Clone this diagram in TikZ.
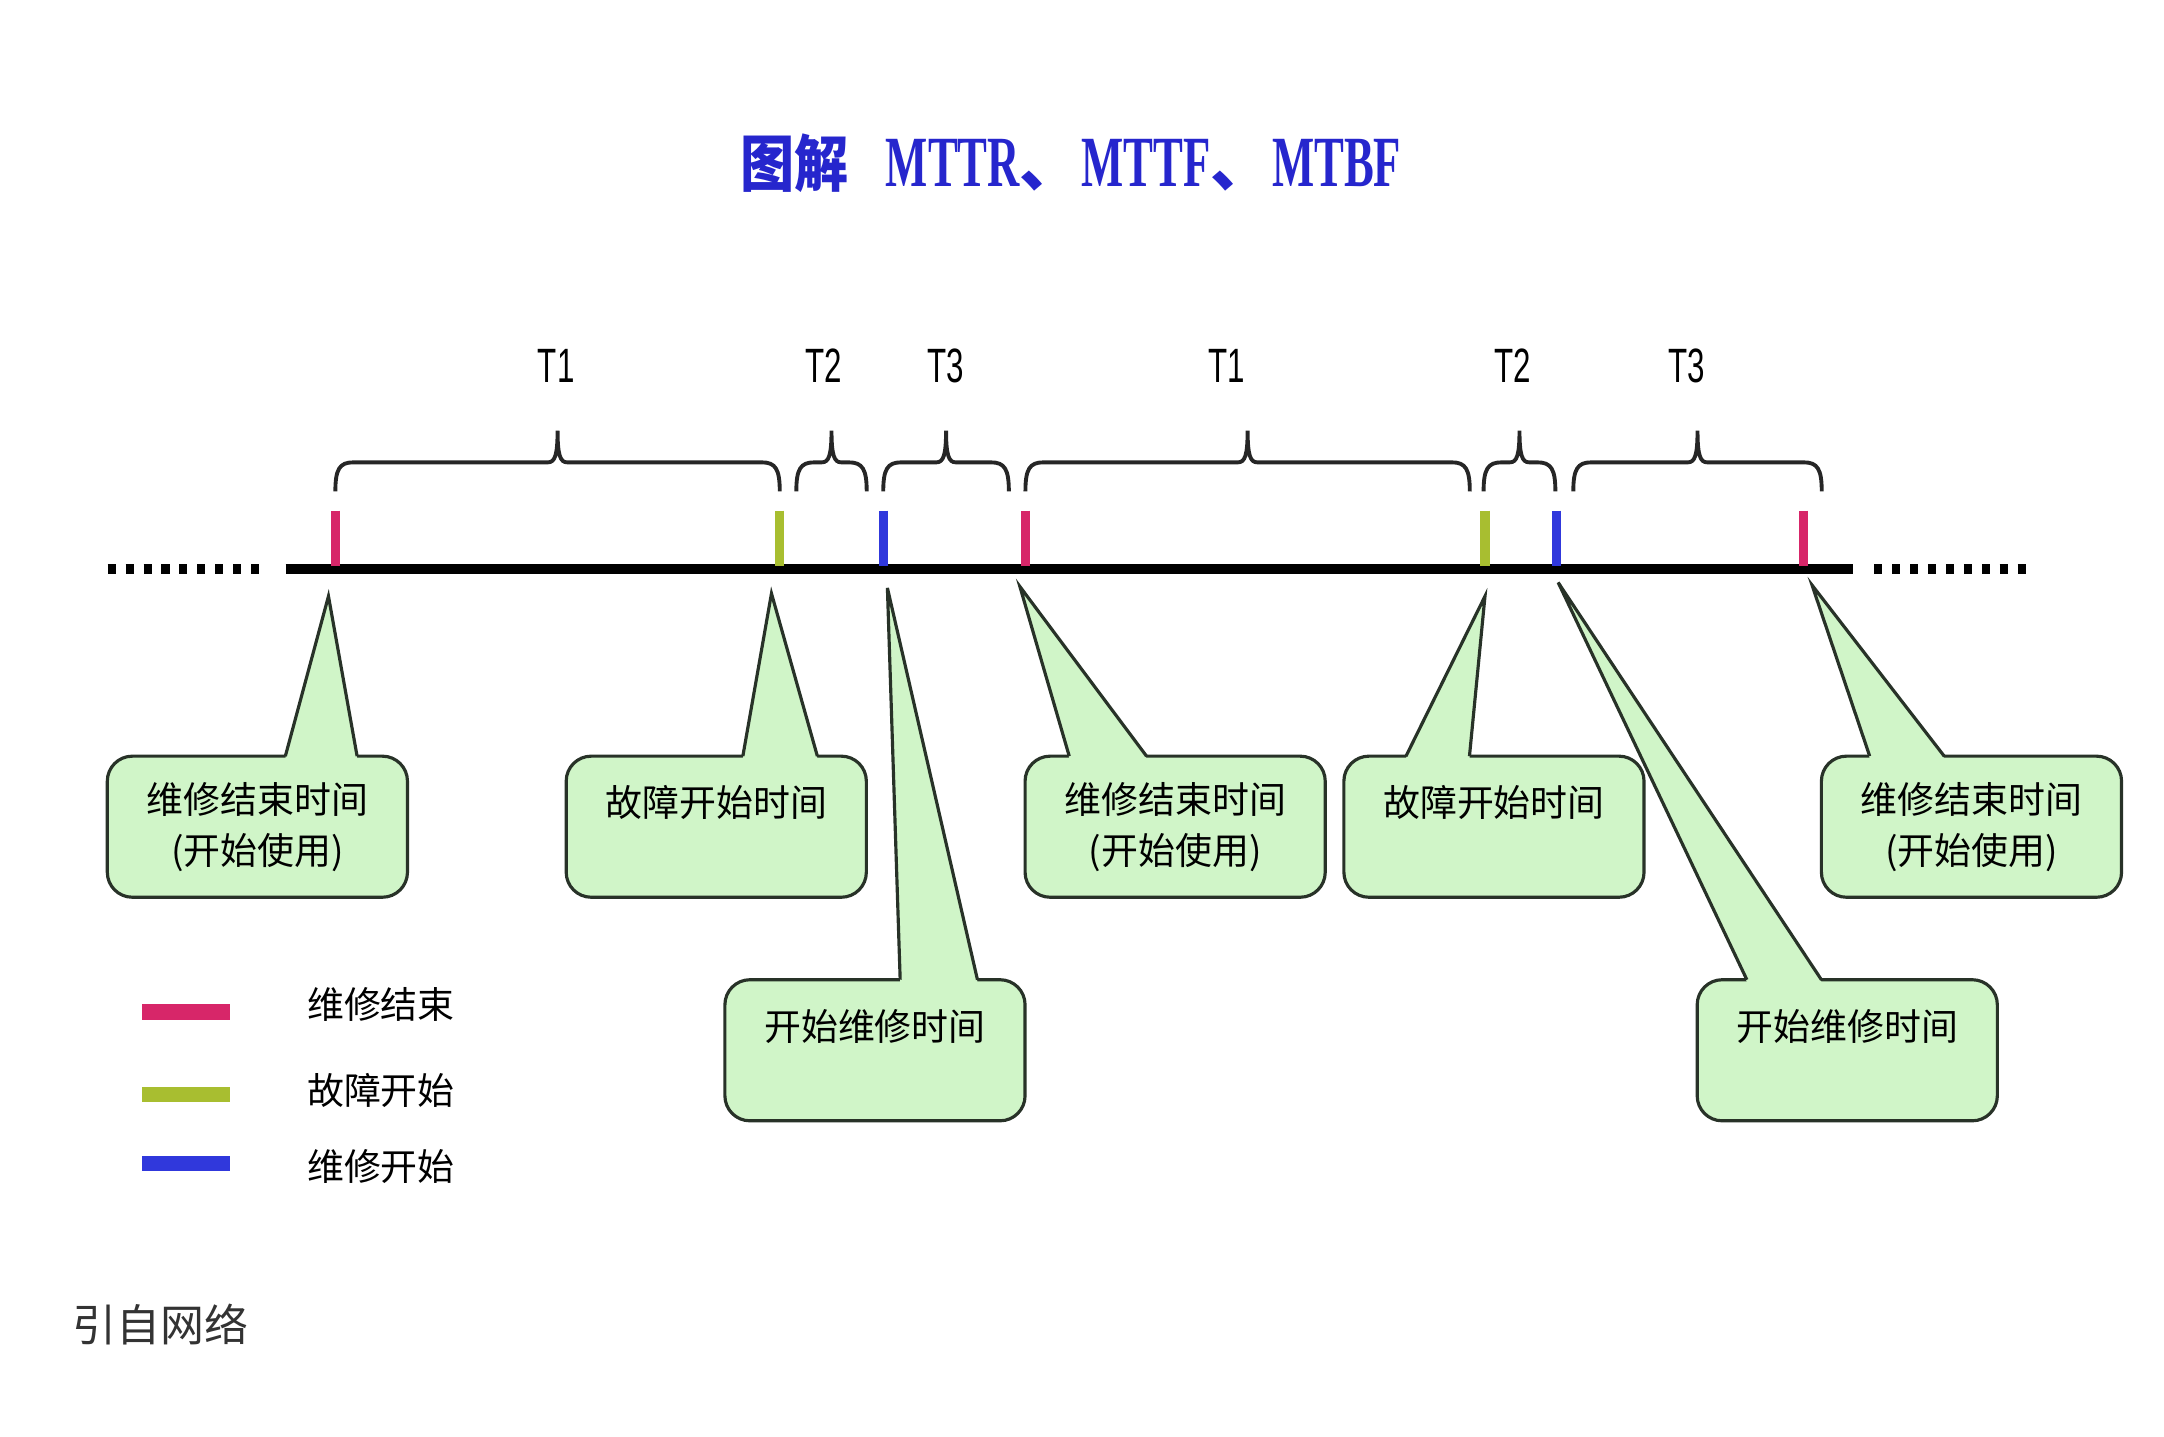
\documentclass[tikz,border=0pt]{standalone}
\usepackage{fontspec}
\setmainfont{Liberation Sans}
\newfontfamily\cjk{Noto Sans CJK SC}
\newfontfamily\titleserif{Liberation Serif}
\usetikzlibrary{calc}
\definecolor{endpink}{RGB}{215, 38, 105}
\definecolor{faultlime}{RGB}{168, 190, 48}
\definecolor{repairblue}{RGB}{48, 56, 220}
\definecolor{titleblue}{RGB}{38, 38, 205}
\definecolor{notefill}{RGB}{208, 245, 200}
\definecolor{noteline}{RGB}{40, 50, 40}
\definecolor{sourcegrey}{RGB}{51, 51, 51}

\tikzset{
  note/.style={draw=noteline, line width=0.9pt, fill=notefill, rounded corners=0.25cm,
    minimum width=3cm, minimum height=1.41cm, inner sep=0pt, outer sep=0pt,
    align=center, font=\cjk\fontsize{10.5}{14.5}\selectfont},
  notetip/.style={draw=noteline, line width=0.9pt, line join=miter},
  ticker/.style={line width=2.6pt},
  spanbrace/.style={line width=1.1pt, black!85},
  period/.style={font=\fontsize{13.7}{16}\selectfont},
  legendbar/.style={line width=4.5pt},
  legendtext/.style={anchor=west, inner sep=0pt, font=\cjk\fontsize{10.5}{13}\selectfont}
}
\newcommand{\narrowcaps}[1]{\scalebox{0.62}[1]{\titleserif\bfseries\fontsize{20.5}{22}\selectfont #1}}
% pointer of a note: box, tip, base offsets from the box's west side
\newcommand{\pointer}[4]{%
  \fill[notefill] ($(#1.north west)+(#3,1.5)$) -- (#2) -- ($(#1.north west)+(#4,1.5)$) -- cycle;
  \draw[notetip] ($(#1.north west)+(#3,0)$) -- (#2) -- ($(#1.north west)+(#4,0)$);
}

\begin{document}
\begin{tikzpicture}[x=0.0138cm, y=-0.0138cm]
  \useasboundingbox (0,0) rectangle (1568,1041);
  % ---------- title ----------
  \node[text=titleblue, font=\cjk\bfseries\fontsize{17.5}{20}\selectfont] (title) at (776,118)
    {\scalebox{0.88}[1]{图解}\hspace{0.6em}\narrowcaps{MTTR}、\narrowcaps{MTTF}、\narrowcaps{MTBF}};
  % ---------- periods ----------
  \foreach \a/\b/\lx/\t [count=\i] in {243/565/403/T1, 577/628/597/T2, 640/731/685/T3,
      743/1065/889/T1, 1075/1127/1096/T2, 1140/1320/1222/T3} {
    \pgfmathsetmacro{\m}{(\a+\b)/2}
    \draw[spanbrace] (\a,356) .. controls (\a,340) and (\a+3,335) .. (\a+13,335)
      -- (\m-7,335) .. controls (\m-2,335) and (\m,330) .. (\m,312)
      .. controls (\m,330) and (\m+2,335) .. (\m+7,335)
      -- (\b-13,335) .. controls (\b-3,335) and (\b,340) .. (\b,356);
    \node[period] (span\i) at (\lx,265) {\scalebox{0.65}[1]{\t}};
  }
  % ---------- time line ----------
  \draw[line width=2.8pt, dash pattern=on 2.3pt off 2.8pt] (78,412) -- (193,412);
  \draw[line width=2.8pt] (207,412) -- (1343,412);
  \draw[line width=2.8pt, dash pattern=on 2.3pt off 2.8pt] (1358,412) -- (1472,412);
  \foreach \x/\c in {243/endpink, 565/faultlime, 640/repairblue, 743/endpink,
      1076/faultlime, 1128/repairblue, 1307/endpink}
    \draw[ticker, \c] (\x,370) -- (\x,410);
  \coordinate (tip1) at (238,432);
  \coordinate (tip2) at (559,430);
  \coordinate (tip3) at (643,426);
  \coordinate (tip4) at (739,425);
  \coordinate (tip5) at (1076,432);
  \coordinate (tip6) at (1129,422);
  \coordinate (tip7) at (1313,424);
  % ---------- notes ----------
  \node[note] (note1) at (186.5,599) {维修结束时间\\(开始使用)};
  \node[note] (note2) at (519,599) {故障开始时间\\\mbox{}};
  \node[note] (note3) at (634,761) {开始维修时间\\\mbox{}};
  \node[note] (note4) at (851.5,599) {维修结束时间\\(开始使用)};
  \node[note] (note5) at (1082.5,599) {故障开始时间\\\mbox{}};
  \node[note] (note6) at (1338.5,761) {开始维修时间\\\mbox{}};
  \node[note] (note7) at (1428.5,599) {维修结束时间\\(开始使用)};
  \pointer{note1}{tip1}{129}{181}
  \pointer{note2}{tip2}{128}{182}
  \pointer{note3}{tip3}{127}{183}
  \pointer{note4}{tip4}{32}{88}
  \pointer{note5}{tip5}{45}{91}
  \pointer{note6}{tip6}{36}{90}
  \pointer{note7}{tip7}{35}{89}
  % ---------- legend ----------
  \foreach \y/\ty/\c/\t [count=\i] in {733/728/endpink/维修结束, 793/790/faultlime/故障开始,
      843/845/repairblue/维修开始} {
    \draw[legendbar, \c] (103,\y) -- (167,\y);
    \node[legendtext] (key\i) at (222,\ty) {\t};
  }
  \node[anchor=west, inner sep=0pt, text=sourcegrey, font=\cjk\fontsize{12.5}{15}\selectfont] (source) at (52,960) {引自网络};
\end{tikzpicture}
\end{document}
